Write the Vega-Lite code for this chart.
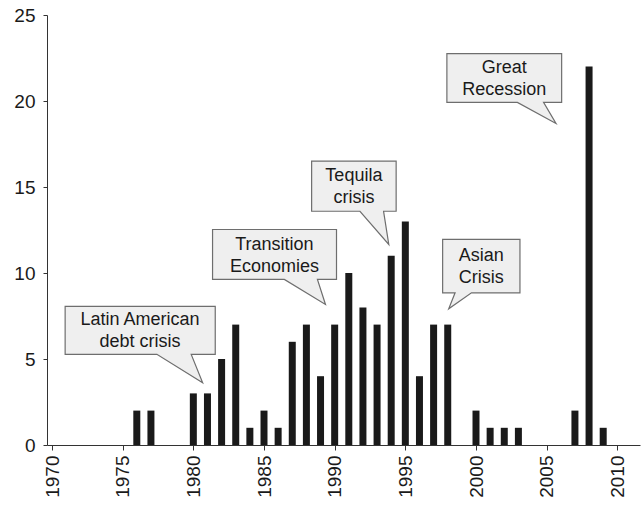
{
  "$schema": "https://vega.github.io/schema/vega-lite/v6.json",
  "description": "Number of crises per year, 1970-2010, with annotated episodes.",
  "autosize": {"type": "none"},
  "padding": {"left": 47, "top": 15, "right": 1, "bottom": 65},
  "width": 593,
  "height": 430,
  "background": "white",
  "config": {
    "view": {"stroke": null},
    "font": "Liberation Sans",
    "axis": {
      "domainColor": "#333333",
      "tickColor": "#333333",
      "labelColor": "#1a1a1a",
      "labelFont": "Liberation Sans",
      "labelFontSize": 19,
      "grid": false,
      "title": null
    }
  },
  "datasets": {
    "crises": [
      {"year": 1976, "count": 2},
      {"year": 1977, "count": 2},
      {"year": 1980, "count": 3},
      {"year": 1981, "count": 3},
      {"year": 1982, "count": 5},
      {"year": 1983, "count": 7},
      {"year": 1984, "count": 1},
      {"year": 1985, "count": 2},
      {"year": 1986, "count": 1},
      {"year": 1987, "count": 6},
      {"year": 1988, "count": 7},
      {"year": 1989, "count": 4},
      {"year": 1990, "count": 7},
      {"year": 1991, "count": 10},
      {"year": 1992, "count": 8},
      {"year": 1993, "count": 7},
      {"year": 1994, "count": 11},
      {"year": 1995, "count": 13},
      {"year": 1996, "count": 4},
      {"year": 1997, "count": 7},
      {"year": 1998, "count": 7},
      {"year": 2000, "count": 2},
      {"year": 2001, "count": 1},
      {"year": 2002, "count": 1},
      {"year": 2003, "count": 1},
      {"year": 2007, "count": 2},
      {"year": 2008, "count": 22},
      {"year": 2009, "count": 1}
    ],
    "callouts": [
      {"c": "latin", "i": 0, "x": 1970.93, "y": 8.06},
      {"c": "latin", "i": 1, "x": 1981.55, "y": 8.06},
      {"c": "latin", "i": 2, "x": 1981.55, "y": 5.27},
      {"c": "latin", "i": 3, "x": 1979.85, "y": 5.27},
      {"c": "latin", "i": 4, "x": 1980.66, "y": 3.62},
      {"c": "latin", "i": 5, "x": 1977.42, "y": 5.27},
      {"c": "latin", "i": 6, "x": 1970.93, "y": 5.27},
      {"c": "transition", "i": 0, "x": 1981.36, "y": 12.53},
      {"c": "transition", "i": 1, "x": 1990.13, "y": 12.53},
      {"c": "transition", "i": 2, "x": 1990.13, "y": 9.63},
      {"c": "transition", "i": 3, "x": 1988.78, "y": 9.63},
      {"c": "transition", "i": 4, "x": 1989.35, "y": 8.17},
      {"c": "transition", "i": 5, "x": 1986.44, "y": 9.63},
      {"c": "transition", "i": 6, "x": 1981.36, "y": 9.63},
      {"c": "tequila", "i": 0, "x": 1988.37, "y": 16.5},
      {"c": "tequila", "i": 1, "x": 1994.35, "y": 16.5},
      {"c": "tequila", "i": 2, "x": 1994.35, "y": 13.59},
      {"c": "tequila", "i": 3, "x": 1993.46, "y": 13.59},
      {"c": "tequila", "i": 4, "x": 1993.83, "y": 11.66},
      {"c": "tequila", "i": 5, "x": 1991.79, "y": 13.59},
      {"c": "tequila", "i": 6, "x": 1988.37, "y": 13.59},
      {"c": "great", "i": 0, "x": 1997.94, "y": 22.75},
      {"c": "great", "i": 1, "x": 2006.06, "y": 22.75},
      {"c": "great", "i": 2, "x": 2006.06, "y": 19.92},
      {"c": "great", "i": 3, "x": 2004.78, "y": 19.92},
      {"c": "great", "i": 4, "x": 2005.66, "y": 18.69},
      {"c": "great", "i": 5, "x": 2002.93, "y": 19.92},
      {"c": "great", "i": 6, "x": 1997.94, "y": 19.92},
      {"c": "asian", "i": 0, "x": 1997.64, "y": 11.95},
      {"c": "asian", "i": 1, "x": 2003.11, "y": 11.95},
      {"c": "asian", "i": 2, "x": 2003.11, "y": 8.85},
      {"c": "asian", "i": 3, "x": 1999.68, "y": 8.85},
      {"c": "asian", "i": 4, "x": 1998.07, "y": 7.92},
      {"c": "asian", "i": 5, "x": 1998.52, "y": 8.85},
      {"c": "asian", "i": 6, "x": 1997.64, "y": 8.85}
    ],
    "labels": [
      {"x": 1976.23, "y": 6.66, "text": ["Latin American", "debt crisis"]},
      {"x": 1985.74, "y": 11.07, "text": ["Transition", "Economies"]},
      {"x": 1991.36, "y": 15.04, "text": ["Tequila", "crisis"]},
      {"x": 2002.0, "y": 21.34, "text": ["Great", "Recession"]},
      {"x": 2000.37, "y": 10.4, "text": ["Asian", "Crisis"]}
    ]
  },
  "layer": [
    {
      "data": {"name": "crises"},
      "mark": {"type": "bar", "width": 7, "color": "#1a1a1a"},
      "encoding": {
        "x": {
          "field": "year",
          "type": "quantitative",
          "scale": {"domain": [1970, 2011.25], "nice": false, "zero": false},
          "axis": {
            "values": [1970, 1975, 1980, 1985, 1990, 1995, 2000, 2005, 2010],
            "format": "d",
            "labelAngle": -90,
            "tickSize": 5,
            "labelPadding": 5
          }
        },
        "y": {
          "field": "count",
          "type": "quantitative",
          "scale": {"domain": [0, 25], "nice": false},
          "axis": {
            "values": [0, 5, 10, 15, 20, 25],
            "tickSize": 4,
            "labelPadding": 8
          }
        }
      }
    },
    {
      "data": {"name": "callouts"},
      "mark": {
        "type": "line",
        "interpolate": "linear-closed",
        "fill": "#efefef",
        "stroke": "#6e6e6e",
        "strokeWidth": 1.2
      },
      "encoding": {
        "x": {"field": "x", "type": "quantitative"},
        "y": {"field": "y", "type": "quantitative"},
        "detail": {"field": "c", "type": "nominal"},
        "order": {"field": "i", "type": "quantitative"}
      }
    },
    {
      "data": {"name": "labels"},
      "mark": {
        "type": "text",
        "font": "Liberation Sans",
        "fontSize": 18,
        "lineHeight": 22,
        "dy": -10,
        "color": "#1a1a1a",
        "align": "center",
        "baseline": "middle"
      },
      "encoding": {
        "x": {"field": "x", "type": "quantitative"},
        "y": {"field": "y", "type": "quantitative"},
        "text": {"field": "text"}
      }
    }
  ]
}
